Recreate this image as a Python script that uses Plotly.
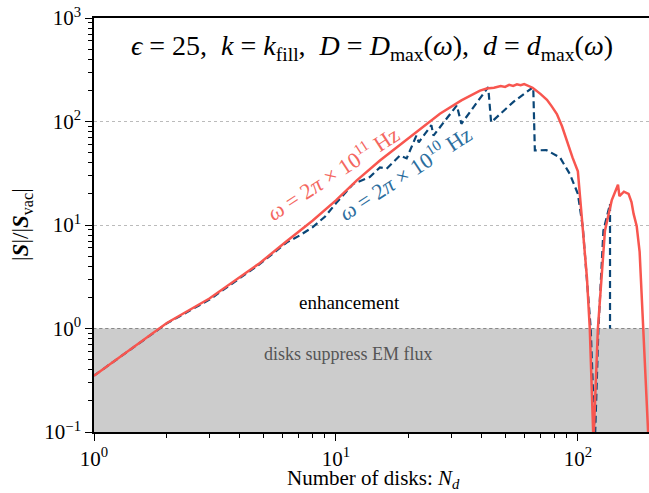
import numpy as np
import plotly.graph_objects as go

# red: omega = 2pi x 10^11 Hz
n_hi = [1, 2, 3, 4.85, 6.27, 8.0, 10, 12.2, 15.2, 20, 26.9, 33, 39.4, 42, 45, 48, 50, 52, 54, 56, 58, 60, 62, 65,
        70, 74.5, 78, 81.9, 86, 90, 95, 100, 104, 109, 112, 115.2, 116, 121, 129.4, 138, 144.5, 146.5, 148.5,
        155, 162, 166.6, 170, 175, 180, 186, 196]
s_hi = [0.35, 1.13, 1.95, 4.3, 7.0, 11.0, 17.3, 27, 42, 70, 119, 160, 199, 208, 212, 220, 216, 226, 221, 229, 224,
        230, 221, 212, 185, 162, 140, 118, 90, 65, 45, 33, 12.0, 3.1, 1.0, 0.08, 0.08, 1.0, 8.8, 17.3, 23, 24.5, 19,
        21, 20, 16.7, 12.8, 9.8, 5.5, 1.0, 0.08]

# blue: omega = 2pi x 10^10 Hz
n_lo = [1, 2, 3, 4.85, 6.27, 7, 8, 9, 10, 11.8, 13.8, 15.2, 16.2, 18.4, 19.6, 21.5, 22, 24.8, 25.3, 31.6, 33,
        42.6, 43.8, 54, 65.4, 66.4, 74, 84.3, 92.7, 100, 104.8, 108.5, 113, 117.6, 121.6, 127.5, 133.5, 135.8, 135.8]
s_lo = [0.35, 1.12, 1.9, 4.2, 6.8, 7.8, 9.5, 12, 16.2, 25, 29, 36, 35, 47, 44, 73, 63, 92, 73, 143, 95,
        215, 98, 154, 215, 52.5, 53, 45, 31, 20, 9.5, 3.1, 1.0, 0.08, 1.0, 8.8, 13.8, 16, 1.0]

# suppression band and tick labels
band_x = [0.5, 400, 400, 0.5]
band_y = [0.1, 0.1, 1, 1]
x_ticks = [1, 10, 100]
x_ticktext = ["10<sup>0</sup>", "10<sup>1</sup>", "10<sup>2</sup>"]
y_ticks = [0.1, 1, 10, 100, 1000]
y_ticktext = ["10<sup>−1</sup>", "10<sup>0</sup>", "10<sup>1</sup>", "10<sup>2</sup>", "10<sup>3</sup>"]

RED = "#f8564f"
BLUE = "#0a4677"
SERIF = "Liberation Serif"

fig = go.Figure()
fig.add_trace(go.Scatter(x=band_x, y=band_y, mode="none", fill="toself",
                         fillcolor="#cccccc", showlegend=False, hoverinfo="skip"))
fig.add_trace(go.Scatter(x=[0.5, 400], y=[1, 1], mode="lines",
                         line=dict(color="#888888", width=1.2, dash="dot"), showlegend=False, hoverinfo="skip"))
fig.add_trace(go.Scatter(x=n_lo, y=s_lo, mode="lines",
                         line=dict(color=BLUE, width=2.2, dash="7px,4px"), showlegend=False))
fig.add_trace(go.Scatter(x=n_hi, y=s_hi, mode="lines",
                         line=dict(color=RED, width=2.5), showlegend=False))

minor_x = [v * 10 ** k for k in range(0, 3) for v in range(2, 10) if v * 10 ** k < 200]
minor_y = [v * 10 ** k for k in range(-1, 3) for v in range(2, 10)]

fig.update_xaxes(type="log", range=[0, 2.294], showgrid=False, zeroline=False, automargin=False,
                 showline=True, linecolor="black", linewidth=1.6, mirror=True,
                 ticks="outside", ticklen=7, tickwidth=1.2, tickcolor="black",
                 tickvals=x_ticks, ticktext=x_ticktext,
                 tickfont=dict(family=SERIF, size=21, color="black"),
                 minor=dict(tickvals=minor_x, ticks="outside", ticklen=4, tickwidth=1, tickcolor="black", showgrid=False))
fig.update_yaxes(type="log", range=[-1, 3], showgrid=True, gridcolor="#bbbbbb", griddash="dot", gridwidth=1,
                 zeroline=False, automargin=False,
                 showline=True, linecolor="black", linewidth=1.6, mirror=True,
                 ticks="outside", ticklen=7, tickwidth=1.2, tickcolor="black",
                 tickvals=y_ticks, ticktext=y_ticktext,
                 tickfont=dict(family=SERIF, size=21, color="black"),
                 minor=dict(tickvals=minor_y, ticks="outside", ticklen=4, tickwidth=1, tickcolor="black", showgrid=False))

ann = [
    dict(x=0.5, y=2.715, xref="paper", yref="y",
         text="<i>ϵ</i> = 25,  <i>k</i> = <i>k</i><sub>fill</sub>,  <i>D</i> = <i>D</i><sub>max</sub>(<i>ω</i>),  <i>d</i> = <i>d</i><sub>max</sub>(<i>ω</i>)",
         font=dict(family=SERIF, size=28, color="black")),
    dict(x=0.987, y=1.512, xref="x", yref="y", textangle=-33,
         text="<i>ω</i> = 2<i>π</i> × 10<sup>11</sup> Hz", font=dict(family=SERIF, size=22, color="#f4675f")),
    dict(x=1.285, y=1.512, xref="x", yref="y", textangle=-33,
         text="<i>ω</i> = 2<i>π</i> × 10<sup>10</sup> Hz", font=dict(family=SERIF, size=22, color="#2c6e9e")),
    dict(x=1.058, y=0.251, xref="x", yref="y", text="enhancement",
         font=dict(family=SERIF, size=19, color="black")),
    dict(x=1.05, y=-0.251, xref="x", yref="y", text="disks suppress EM flux",
         font=dict(family=SERIF, size=18, color="#555555")),
    # axis titles
    dict(x=(373 - 94) / 555, y=(432 - 479) / 414, xref="paper", yref="paper",
         xanchor="center", yanchor="middle",
         text="Number of disks: <i>N<sub>d</sub></i>", font=dict(family=SERIF, size=21, color="black")),
    dict(x=(22 - 94) / 555, y=(432 - 225) / 414, xref="paper", yref="paper", textangle=-90,
         xanchor="center", yanchor="middle",
         text="|<b><i>S</i></b>|/|<b><i>S</i></b><sub>vac</sub>|", font=dict(family=SERIF, size=23, color="black")),
]
for a in ann:
    a["showarrow"] = False
fig.update_layout(annotations=ann, width=649, height=493,
                  margin=dict(l=94, r=0, t=18, b=61),
                  plot_bgcolor="white", paper_bgcolor="white")

fig.write_html("out.html")
